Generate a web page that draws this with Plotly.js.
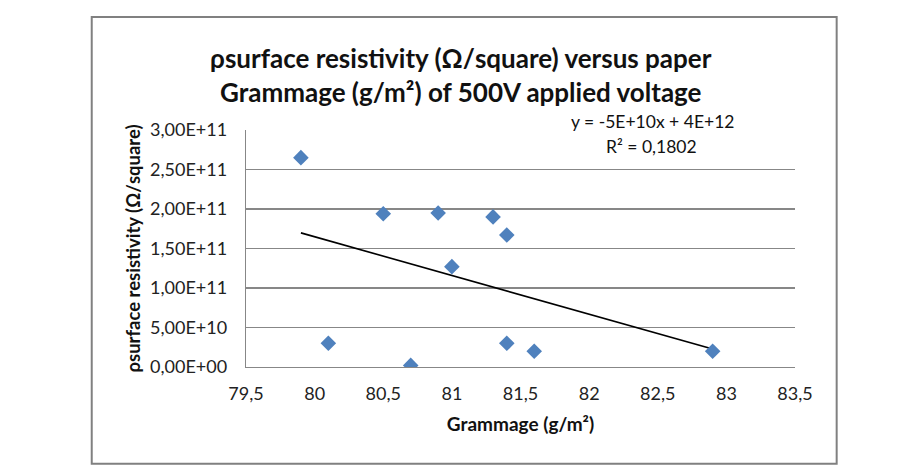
<!DOCTYPE html>
<html>
<head>
<meta charset="utf-8">
<script src="https://cdn.plot.ly/plotly-3.0.1.min.js"></script>
<style>
  html, body { margin: 0; padding: 0; background: #ffffff; }
  #chart { width: 916px; height: 471px; }
</style>
</head>
<body>
<div id="chart"></div>
<script>
// ---- data ----
const grammage = [79.9, 80.1, 80.5, 80.7, 80.9, 81.0, 81.3, 81.4, 81.4, 81.6, 82.9];
const resistivity = [2.65e11, 3.0e10, 1.94e11, 2e9, 1.95e11, 1.27e11, 1.90e11, 1.67e11, 3.0e10, 2.0e10, 2.0e10];

const xTickVals = [79.5, 80, 80.5, 81, 81.5, 82, 82.5, 83, 83.5];
const xTickText = ['79,5', '80', '80,5', '81', '81,5', '82', '82,5', '83', '83,5'];
const yTickVals = [0, 5e10, 1e11, 1.5e11, 2e11, 2.5e11, 3e11];
const yTickText = ['0,00E+00', '5,00E+10', '1,00E+11', '1,50E+11', '2,00E+11', '2,50E+11', '3,00E+11'];

const chartTitle = 'ρsurface resistivity (Ω/square) versus paper<br>Grammage (g/m²) of 500V applied voltage';
const xTitle = 'Grammage (g/m²)';
const yTitle = 'ρsurface resistivity (Ω/square)';
const equationText = 'y = -5E+10x + 4E+12';
const r2Text = 'R² = 0,1802';

// ---- linear least-squares trendline from the data ----
const n = grammage.length;
const mx = grammage.reduce((a, b) => a + b, 0) / n;
const my = resistivity.reduce((a, b) => a + b, 0) / n;
let sxy = 0, sxx = 0;
for (let i = 0; i < n; i++) {
  sxy += (grammage[i] - mx) * (resistivity[i] - my);
  sxx += (grammage[i] - mx) * (grammage[i] - mx);
}
const slope = sxy / sxx;
const intercept = my - slope * mx;
const xMin = Math.min(...grammage), xMax = Math.max(...grammage);
const trendX = [xMin, xMax];
const trendY = trendX.map(x => slope * x + intercept);

const FONT = 'Lato, "Open Sans", sans-serif';

const traces = [
  {
    x: trendX, y: trendY, type: 'scatter', mode: 'lines',
    line: { color: '#000000', width: 1.6 },
    hoverinfo: 'skip', showlegend: false
  },
  {
    x: grammage, y: resistivity, type: 'scatter', mode: 'markers',
    marker: { symbol: 'diamond', size: 12, color: '#4F81BD', line: { width: 0 } },
    showlegend: false
  }
];

const layout = {
  width: 916, height: 471,
  margin: { l: 246, r: 121, t: 130, b: 103.5 },
  paper_bgcolor: '#ffffff', plot_bgcolor: '#ffffff',
  font: { family: FONT, color: '#222222' },
  title: {
    text: chartTitle,
    font: { family: FONT, size: 26, color: '#111111', weight: 'bold' },
    x: 0.503, xanchor: 'center',
    y: 1 - 68 / 471, yanchor: 'middle', yref: 'container'
  },
  xaxis: {
    range: [79.5, 83.5],
    tickvals: xTickVals, ticktext: xTickText,
    showgrid: false, zeroline: false,
    showline: true, linecolor: '#878787', linewidth: 1.3,
    ticks: '', ticklen: 0, ticklabelstandoff: 10,
    tickfont: { family: FONT, size: 18, color: '#222222' },
    title: { text: xTitle, font: { family: FONT, size: 19, color: '#111111', weight: 'bold' }, standoff: 14 }
  },
  yaxis: {
    range: [0, 3e11],
    tickvals: yTickVals, ticktext: yTickText,
    showgrid: true, gridcolor: '#878787', gridwidth: 1.3,
    zeroline: false,
    showline: true, linecolor: '#878787', linewidth: 1.3,
    ticks: '', ticklen: 0, ticklabelstandoff: 14,
    tickfont: { family: FONT, size: 18, color: '#222222' },
    title: { text: yTitle, font: { family: FONT, size: 18.5, color: '#111111', weight: 'bold' }, standoff: 4 }
  },
  shapes: [
    {
      type: 'rect', xref: 'paper', yref: 'paper',
      x0: -0.281, x1: 1.0759, y0: -0.408, y1: 1.477,
      line: { color: '#808080', width: 2 }, fillcolor: 'rgba(0,0,0,0)', layer: 'below'
    }
  ],
  annotations: [
    {
      text: equationText, xref: 'paper', yref: 'paper',
      x: 0.74, y: 1.035, xanchor: 'center', yanchor: 'middle', showarrow: false,
      font: { family: FONT, size: 17.5, color: '#111111' }
    },
    {
      text: r2Text, xref: 'paper', yref: 'paper',
      x: 0.738, y: 0.930, xanchor: 'center', yanchor: 'middle', showarrow: false,
      font: { family: FONT, size: 17.5, color: '#111111' }
    }
  ]
};

Plotly.newPlot('chart', traces, layout, { displayModeBar: false, staticPlot: true });
</script>
</body>
</html>
